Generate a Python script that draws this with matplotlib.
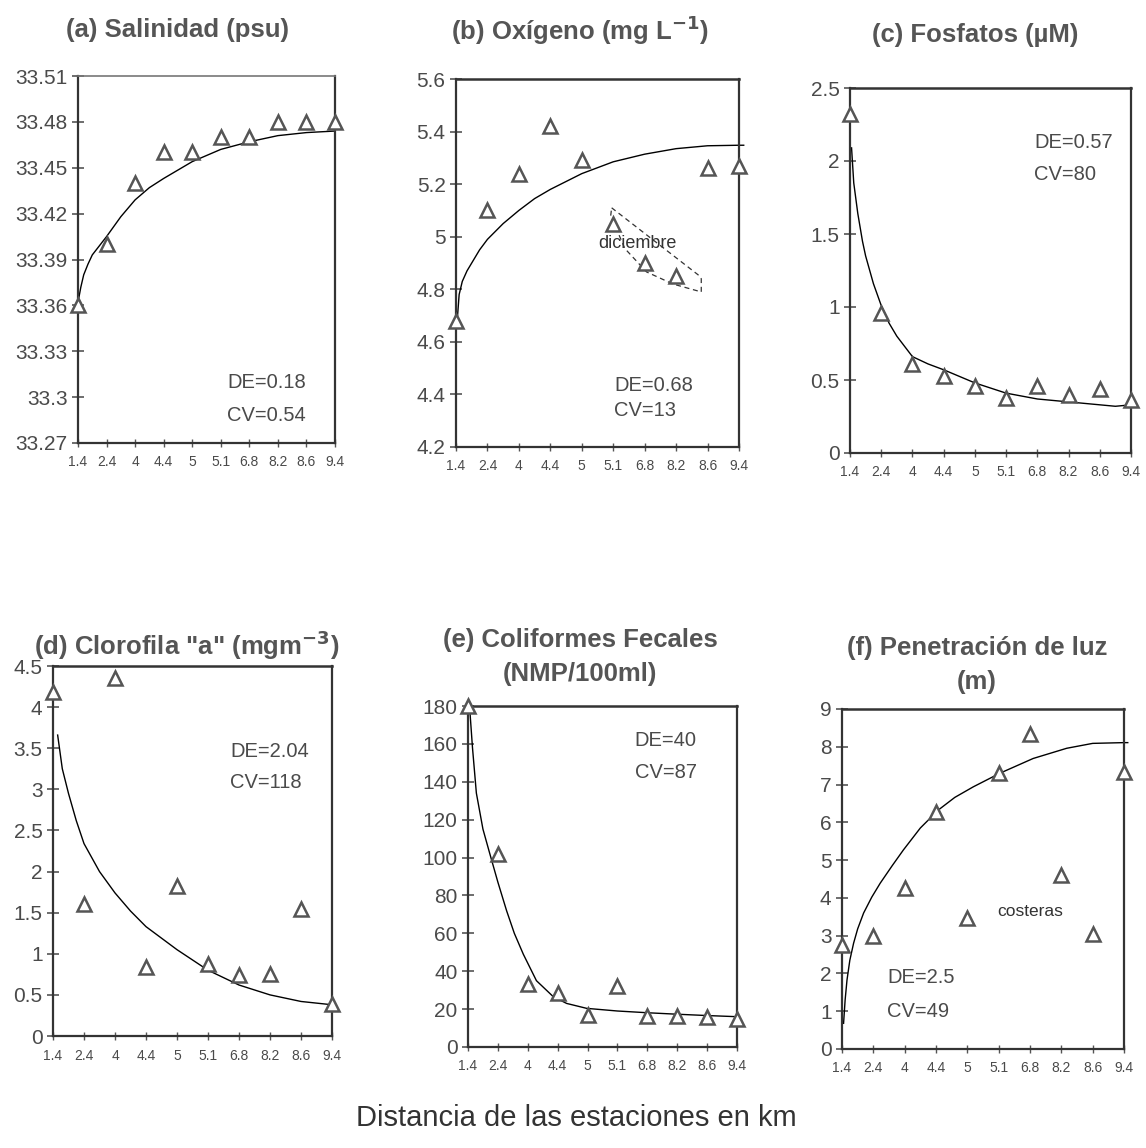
import numpy as np
import matplotlib
matplotlib.use("Agg")
import matplotlib.pyplot as plt

W, H = 1146, 1148

estaciones = ["1.4", "2.4", "4", "4.4", "5", "5.1", "6.8", "8.2", "8.6", "9.4"]

# valores medidos en cada estacion
salinidad = [33.36, 33.40, 33.44, 33.46, 33.46, 33.47, 33.47, 33.48, 33.48, 33.48]
oxigeno = [4.68, 5.10, 5.24, 5.42, 5.29, 5.05, 4.90, 4.85, 5.26, 5.27]
fosfatos = [2.32, 0.96, 0.61, 0.53, 0.46, 0.38, 0.46, 0.40, 0.44, 0.36]
clorofila = [4.18, 1.61, 4.35, 0.84, 1.82, 0.88, 0.74, 0.75, 1.55, 0.39]
coliformes = [180, 102, 33, 28.5, 17, 32, 16.5, 16.5, 16, 15]
luz = [2.75, 2.99, 4.25, 6.28, 3.46, 7.30, 8.34, 4.60, 3.04, 7.34]

# curvas de tendencia (posicion de estacion, valor)
sal_cx = [0, 0.1, 0.2, 0.35, 0.5, 0.75, 1, 1.5, 2, 2.5, 3, 4, 5, 6, 7, 8, 9]
sal_cy = [33.362, 33.372, 33.380, 33.387, 33.393, 33.399, 33.405, 33.418, 33.429,
          33.437, 33.443, 33.454, 33.462, 33.467, 33.471, 33.473, 33.474]
oxi_cx = [0.05, 0.1, 0.2, 0.35, 0.5, 0.75, 1, 1.5, 2, 2.5, 3, 4, 5, 6, 7, 8, 9, 9.15]
oxi_cy = [4.70, 4.78, 4.83, 4.87, 4.90, 4.95, 4.99, 5.05, 5.10, 5.145, 5.18, 5.24,
          5.285, 5.314, 5.335, 5.346, 5.348, 5.348]
fos_cx = [0.05, 0.12, 0.25, 0.4, 0.5, 0.75, 1, 1.25, 1.5, 2, 2.5, 3, 4, 5, 6, 7, 8, 8.5, 9]
fos_cy = [2.09, 1.85, 1.64, 1.45, 1.35, 1.16, 1.01, 0.89, 0.80, 0.66, 0.61, 0.57,
          0.48, 0.41, 0.37, 0.35, 0.33, 0.32, 0.33]
clo_cx = [0.15, 0.3, 0.5, 0.75, 1, 1.5, 2, 2.5, 3, 4, 5, 6, 7, 8, 9]
clo_cy = [3.66, 3.25, 2.95, 2.62, 2.34, 2.00, 1.74, 1.52, 1.33, 1.05, 0.80, 0.62,
          0.50, 0.42, 0.38]
col_cx = [0.06, 0.15, 0.28, 0.5, 0.73, 1.0, 1.29, 1.55, 1.85, 2.29, 2.85, 3.3, 3.97, 5, 5.98, 7, 8, 9]
col_cy = [178, 158, 134, 115, 102, 87, 72, 60, 49, 35, 26.6, 23, 20.4, 19.0, 18.1,
          17.3, 16.6, 16.0]
luz_cx = [0.05, 0.1, 0.16, 0.25, 0.37, 0.5, 0.69, 0.95, 1.22, 1.6, 1.96, 2.5, 3.08,
          3.6, 4.19, 5.04, 6.1, 7.17, 8.0, 9, 9.12]
luz_cy = [0.68, 1.30, 1.83, 2.35, 2.80, 3.18, 3.60, 4.02, 4.39, 4.85, 5.27, 5.85,
          6.33, 6.66, 6.94, 7.30, 7.69, 7.96, 8.09, 8.11, 8.11]

# contorno punteado "diciembre"
dic_x = [4.95, 7.7, 7.8, 7.8, 6.9, 6.06, 5.37, 4.92, 4.95]
dic_y = [5.11, 4.855, 4.84, 4.79, 4.82, 4.866, 4.955, 5.08, 5.11]

gris = "#4a4a4a"

fig = plt.figure(figsize=(W / 100, H / 100), dpi=100)
fig.patch.set_facecolor("white")
plt.rcParams["font.family"] = ["Liberation Sans", "DejaVu Sans"]


def caja(px_left, px_top, px_right, px_bottom):
    return fig.add_axes([px_left / W, 1 - px_bottom / H,
                         (px_right - px_left) / W, (px_bottom - px_top) / H])


def panel(ax, valores, cx, cy, ylim, paso):
    pos = np.arange(len(estaciones))
    ax.plot(cx, cy, color="black", lw=1.0, clip_on=False, zorder=2)
    ax.plot(pos, valores, linestyle="none", marker="^", markersize=10.5,
            markerfacecolor="white", markeredgecolor="#555555",
            markeredgewidth=1.8, clip_on=False, zorder=3)
    ax.set_xlim(0, len(estaciones) - 1)
    ax.set_ylim(*ylim)
    ax.set_xticks(pos)
    ax.set_xticklabels(estaciones, fontsize=10, color=gris)
    ticks = np.arange(ylim[0], ylim[1] + paso / 2, paso)
    ax.set_yticks(ticks)
    ax.set_yticklabels(["%g" % round(t, 2) for t in ticks], fontsize=15, color=gris)
    ax.tick_params(axis="y", direction="inout", length=9, width=1.2, color="#555555", pad=3)
    ax.tick_params(axis="x", direction="inout", length=6, width=1.0, color="#555555", pad=6)
    for s in ax.spines.values():
        s.set_color("#333333")
        s.set_linewidth(1.6)
    ax.spines["top"].set_linewidth(1.8)


def texto(ax, x, y, s):
    ax.text(x, y, s, transform=ax.transAxes, fontsize=14.5, color=gris,
            ha="left", va="center")


def titulo(px, py, s):
    fig.text(px / W, 1 - py / H, s, fontsize=18.5, fontweight="bold",
             color="#555555", ha="center", va="center")


# (a)
ax = caja(78, 76, 335, 443)
panel(ax, salinidad, sal_cx, sal_cy, (33.27, 33.51), 0.03)
ax.spines["top"].set_color("#777777")
ax.spines["top"].set_linewidth(1.2)
texto(ax, 0.58, 0.166, "DE=0.18")
texto(ax, 0.58, 0.076, "CV=0.54")
titulo(177, 30, "(a) Salinidad (psu)")

# (b)
ax = caja(456, 79, 739, 447)
panel(ax, oxigeno, oxi_cx, oxi_cy, (4.2, 5.6), 0.2)
ax.plot(dic_x, dic_y, color="#333333", lw=0.9, linestyle=(0, (4, 3)), zorder=1)
ax.text(4.52, 4.975, "diciembre", fontsize=13, color="#333333", ha="left", va="center")
texto(ax, 0.56, 0.168, "DE=0.68")
texto(ax, 0.56, 0.100, "CV=13")
titulo(580, 30, "(b) Oxígeno (mg L$^{\\mathbf{-1}}$)")

# (c)
ax = caja(850, 88, 1131, 453)
panel(ax, fosfatos, fos_cx, fos_cy, (0, 2.5), 0.5)
texto(ax, 0.655, 0.852, "DE=0.57")
texto(ax, 0.655, 0.764, "CV=80")
titulo(975, 35, "(c) Fosfatos (µM)")

# (d)
ax = caja(53, 666, 332, 1036)
panel(ax, clorofila, clo_cx, clo_cy, (0, 4.5), 0.5)
texto(ax, 0.634, 0.77, "DE=2.04")
texto(ax, 0.634, 0.686, "CV=118")
titulo(187, 645, "(d) Clorofila \"a\" (mgm$^{\\mathbf{-3}}$)")

# (e)
ax = caja(468, 706, 737, 1047)
panel(ax, coliformes, col_cx, col_cy, (0, 180), 20)
texto(ax, 0.62, 0.90, "DE=40")
texto(ax, 0.62, 0.806, "CV=87")
titulo(580, 640, "(e) Coliformes Fecales")
titulo(580, 674, "(NMP/100ml)")

# (f)
ax = caja(842, 709, 1124, 1049)
panel(ax, luz, luz_cx, luz_cy, (0, 9), 1)
ax.text(4.94, 3.63, "costeras", fontsize=12.5, color="#333333", ha="left", va="center")
texto(ax, 0.16, 0.209, "DE=2.5")
texto(ax, 0.16, 0.109, "CV=49")
titulo(977, 648, "(f) Penetración de luz")
titulo(977, 682, "(m)")

fig.text(576 / W, 1 - 1118 / H, "Distancia de las estaciones en km",
         fontsize=21, color="#333333", ha="center", va="center")

fig.savefig("out.png", dpi=100, facecolor="white")
